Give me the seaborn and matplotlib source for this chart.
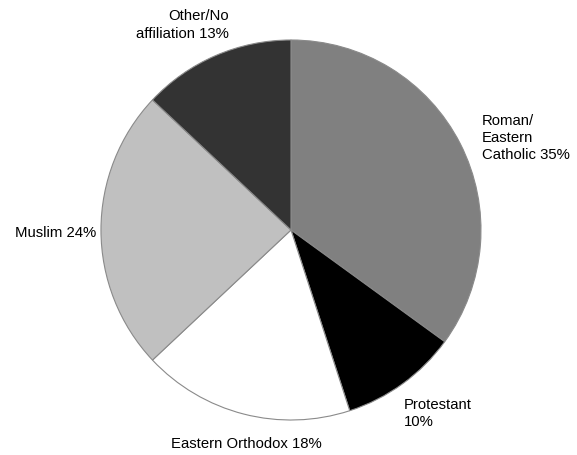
import matplotlib
matplotlib.use("Agg")
import matplotlib.pyplot as plt
import seaborn as sns

categories = ["Roman/\nEastern\nCatholic", "Protestant\n", "Eastern Orthodox", "Muslim", "Other/No\naffiliation"]
shares = [35, 10, 18, 24, 13]
colors = ["#808080", "#000000", "#ffffff", "#c0c0c0", "#333333"]

sns.set_theme(style="white")
plt.rcParams['font.family'] = ['Liberation Sans', 'DejaVu Sans']

fig = plt.figure(figsize=(5.77, 4.55), dpi=100)
ax = fig.add_axes([0.175, 0.0769, 0.6586, 0.8352])

wedges, _ = ax.pie(shares, colors=colors, startangle=90, counterclock=False,
                   radius=1.0, wedgeprops=dict(edgecolor="#8a8a8a", linewidth=0.8))
ax.set_xlim(-1, 1)
ax.set_ylim(-1, 1)
ax.set_aspect("equal")
ax.axis("off")

labels = []
for c, s in zip(categories, shares):
    if c.endswith("\n"):
        labels.append(f"{c}{s}%")
    else:
        labels.append(f"{c} {s}%")

# label anchors (data units) and alignment
anchors = [(1.005, 0.484, "left", "center"),
           (0.595, -0.884, "left", "top"),
           (-0.237, -1.089, "center", "top"),
           (-1.026, -0.016, "right", "center"),
           (-0.326, 1.079, "right", "center")]
for lab, (x, y, ha, va) in zip(labels, anchors):
    ax.text(x, y, lab, ha=ha, va=va, fontsize=10.7, color="black",
            linespacing=1.3, multialignment=ha if ha != "center" else "center",
            clip_on=False)

fig.savefig("out.png", dpi=100, facecolor="white")
